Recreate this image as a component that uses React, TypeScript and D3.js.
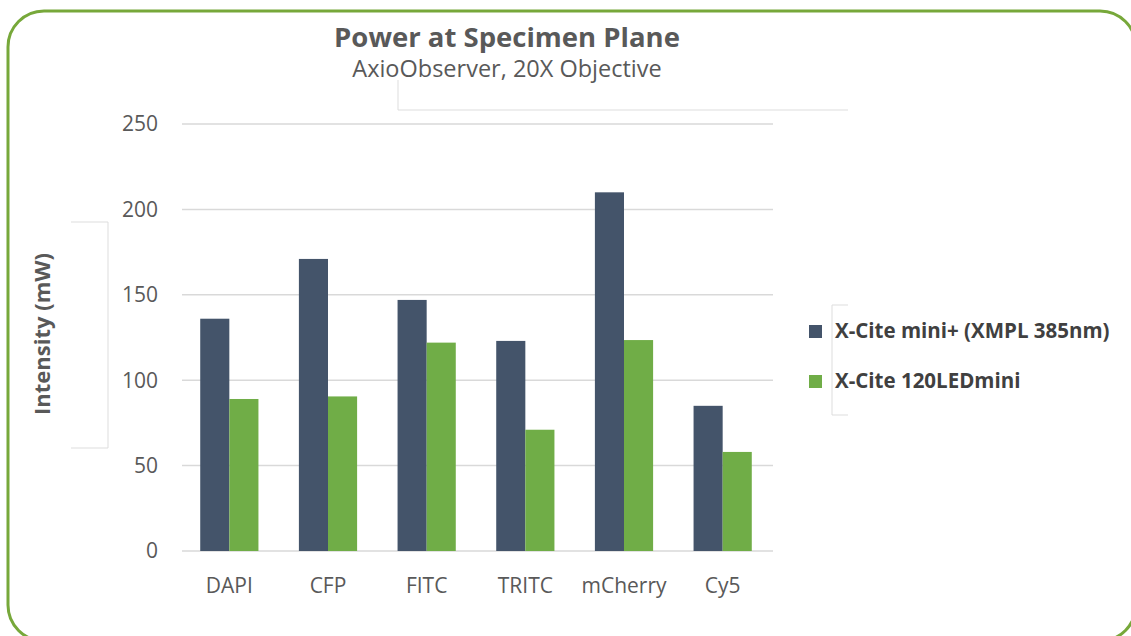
import React, { useEffect, useRef } from 'react';
import * as d3 from 'd3';

const categories = ['DAPI', 'CFP', 'FITC', 'TRITC', 'mCherry', 'Cy5'];
const seriesNames = ['X-Cite mini+ (XMPL 385nm)', 'X-Cite 120LEDmini'];
const miniPlus = [136, 171, 147, 123, 210, 85];
const led120 = [89, 90.5, 122, 71, 123.5, 58];
const yTicks = [0, 50, 100, 150, 200, 250];
const colors = ['#44546A', '#70AD47'];

const WIDTH = 1131;
const HEIGHT = 636;

const App: React.FC = () => {
    const svgRef = useRef<SVGSVGElement>(null);

    useEffect(() => {
        if (!svgRef.current) return;
        const svg = d3.select(svgRef.current);
        svg.selectAll('*').remove();

        const font = '"Open Sans", "DejaVu Sans", sans-serif';
        const textColor = '#595959';

        // rounded green frame
        svg.append('rect')
            .attr('x', 8)
            .attr('y', 11)
            .attr('width', 1128)
            .attr('height', 630)
            .attr('rx', 36)
            .attr('fill', 'white')
            .attr('stroke', '#77A83A')
            .attr('stroke-width', 3);

        const x0 = d3.scaleBand<string>()
            .domain(categories)
            .range([180, 772])
            .paddingInner(0.41)
            .paddingOuter(0.205);

        const x1 = d3.scaleBand<number>()
            .domain([0, 1])
            .range([0, x0.bandwidth()]);

        const y = d3.scaleLinear()
            .domain([0, 250])
            .range([551, 124]);

        // gridlines
        svg.append('g')
            .selectAll('line')
            .data(yTicks)
            .join('line')
            .attr('x1', 182)
            .attr('x2', 773)
            .attr('y1', d => y(d))
            .attr('y2', d => y(d))
            .attr('stroke', '#D9D9D9')
            .attr('stroke-width', 1.5);

        // y tick labels
        svg.append('g')
            .selectAll('text')
            .data(yTicks)
            .join('text')
            .attr('x', 158)
            .attr('y', d => y(d))
            .attr('dy', '0.35em')
            .attr('text-anchor', 'end')
            .attr('font-family', font)
            .attr('font-size', 21)
            .attr('fill', textColor)
            .text(d => d);

        // bars
        const series = [miniPlus, led120];
        const groups = svg.append('g')
            .selectAll('g')
            .data(categories)
            .join('g')
            .attr('transform', d => `translate(${x0(d)},0)`);

        groups.selectAll('rect')
            .data((_, i) => series.map((s, k) => ({ k, v: s[i] })))
            .join('rect')
            .attr('x', d => x1(d.k) as number)
            .attr('width', x1.bandwidth())
            .attr('y', d => y(d.v))
            .attr('height', d => y(0) - y(d.v))
            .attr('fill', d => colors[d.k]);

        // category labels
        svg.append('g')
            .selectAll('text')
            .data(categories)
            .join('text')
            .attr('x', d => (x0(d) as number) + x0.bandwidth() / 2)
            .attr('y', 593)
            .attr('text-anchor', 'middle')
            .attr('font-family', font)
            .attr('font-size', 21)
            .attr('fill', textColor)
            .text(d => d);

        // title
        svg.append('text')
            .attr('x', 507)
            .attr('y', 47)
            .attr('text-anchor', 'middle')
            .attr('font-family', font)
            .attr('font-weight', 'bold')
            .attr('font-size', 27.5)
            .attr('fill', textColor)
            .text('Power at Specimen Plane');

        svg.append('text')
            .attr('x', 507)
            .attr('y', 77)
            .attr('text-anchor', 'middle')
            .attr('font-family', font)
            .attr('font-size', 23.5)
            .attr('fill', textColor)
            .text('AxioObserver, 20X Objective');

        // leftover frame lines from the original layout
        const frame = '#DDDDDD';
        svg.append('path')
            .attr('d', 'M398,80V110H848')
            .attr('fill', 'none')
            .attr('stroke', frame);
        svg.append('path')
            .attr('d', 'M71,222H108V448H71')
            .attr('fill', 'none')
            .attr('stroke', frame);
        svg.append('path')
            .attr('d', 'M848,305H832V415H848')
            .attr('fill', 'none')
            .attr('stroke', frame);

        // y axis title
        svg.append('text')
            .attr('transform', 'translate(50,334) rotate(-90)')
            .attr('text-anchor', 'middle')
            .attr('font-family', font)
            .attr('font-weight', 'bold')
            .attr('font-size', 22)
            .attr('fill', textColor)
            .text('Intensity (mW)');

        // legend
        const legend = svg.append('g')
            .selectAll('g')
            .data(seriesNames)
            .join('g')
            .attr('transform', (_, i) => `translate(809,${331 + i * 50})`);

        legend.append('rect')
            .attr('x', 0)
            .attr('y', -6)
            .attr('width', 13)
            .attr('height', 13)
            .attr('fill', (_, i) => colors[i]);

        legend.append('text')
            .attr('x', 26)
            .attr('y', 0)
            .attr('dy', '0.35em')
            .attr('font-family', font)
            .attr('font-weight', 'bold')
            .attr('font-size', 20.5)
            .attr('fill', '#404040')
            .text(d => d);
    }, []);

    return (
        <svg
            ref={svgRef}
            width={WIDTH}
            height={HEIGHT}
            style={{ position: 'absolute', left: 0, top: 0, background: 'white' }}
        />
    );
};

export default App;
